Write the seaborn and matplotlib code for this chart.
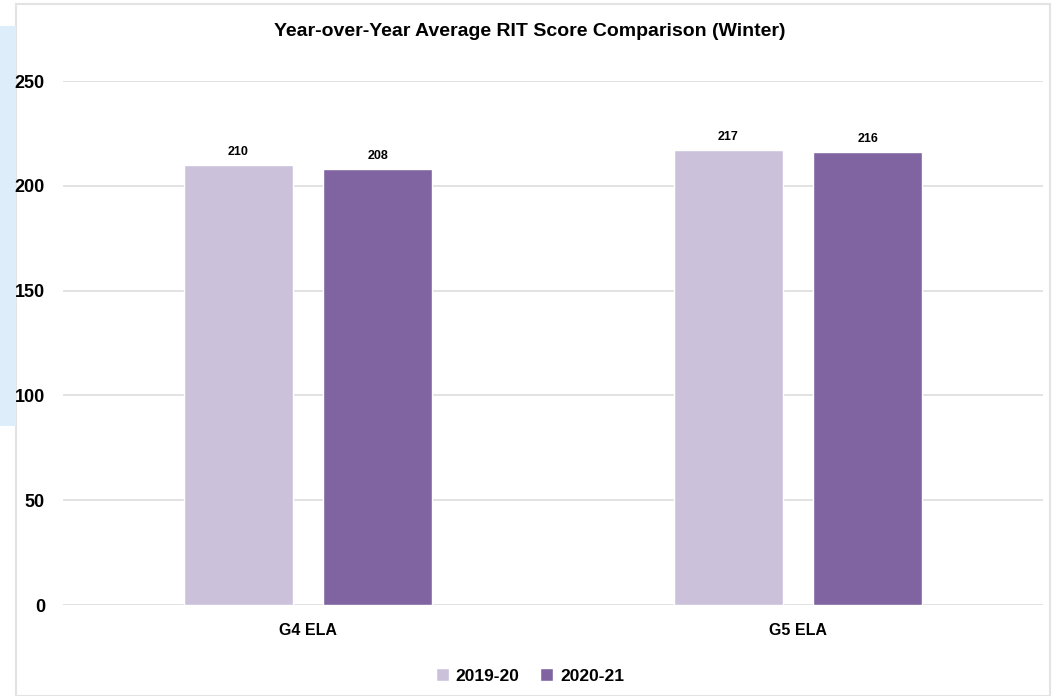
import matplotlib
matplotlib.use("Agg")
import matplotlib.pyplot as plt
import seaborn as sns
import pandas as pd

# Average RIT score, winter testing
categories = ["G4 ELA", "G5 ELA"]
years = ["2019-20", "2020-21"]
scores_2019 = [210, 217]
scores_2020 = [208, 216]

df = pd.DataFrame({
    "category": categories * 2,
    "year": [years[0]] * 2 + [years[1]] * 2,
    "score": scores_2019 + scores_2020,
})

sns.set_style("white")
plt.rcParams["font.family"] = ["Liberation Sans", "DejaVu Sans"]
plt.rcParams["text.color"] = "black"
plt.rcParams["xtick.color"] = "black"
plt.rcParams["ytick.color"] = "black"

fig = plt.figure(figsize=(10.54, 6.96), dpi=100)
ax = fig.add_axes([63 / 1054, 91 / 696, 980 / 1054, 524 / 696])

palette = {"2019-20": "#CCC1DA", "2020-21": "#8064A2"}
sns.barplot(data=df, x="category", y="score", hue="year", palette=palette,
            width=0.57, gap=0.22, saturation=1, ax=ax, zorder=3)

for cont in ax.containers:
    ax.bar_label(cont, padding=5, fontsize=9, fontweight="bold", color="black")

ax.set_ylim(0, 250)
ax.set_xlim(-0.5, 1.5)
ax.set_yticks(range(0, 251, 50))
ax.yaxis.grid(True, color="#DDDDDD", linewidth=1.2, zorder=0)
sns.despine(ax=ax, left=True, bottom=True, top=True, right=True)
ax.tick_params(axis="both", length=0)
ax.tick_params(axis="y", pad=13, labelsize=13)
ax.tick_params(axis="x", pad=13, labelsize=11.5)
for lbl in ax.get_xticklabels() + ax.get_yticklabels():
    lbl.set_fontweight("bold")
ax.set_xlabel("")
ax.set_ylabel("")

fig.suptitle("Year-over-Year Average RIT Score Comparison (Winter)",
             x=530 / 1054, y=1 - 31 / 696, va="center", fontsize=14,
             fontweight="bold")

ax.legend(loc="center", bbox_to_anchor=(530 / 1054, 20 / 696),
          bbox_transform=fig.transFigure, ncol=2, frameon=False,
          prop={"weight": "bold", "size": 12.5}, handlelength=0.75,
          handleheight=0.75, handletextpad=0.4, columnspacing=1.2)

# light frame around the chart area and blue strip at the left edge
fig.patches.append(plt.Rectangle((16 / 1054, 0), 1034 / 1054, 1 - 4 / 696,
                                 transform=fig.transFigure, fill=False,
                                 edgecolor="#E3E3E3", linewidth=1.5, zorder=-1))
fig.patches.append(plt.Rectangle((0, 270 / 696), 16 / 1054, 400 / 696,
                                 transform=fig.transFigure, facecolor="#DDEEFA",
                                 edgecolor="none", zorder=-1))

fig.savefig("out.png", dpi=100)
